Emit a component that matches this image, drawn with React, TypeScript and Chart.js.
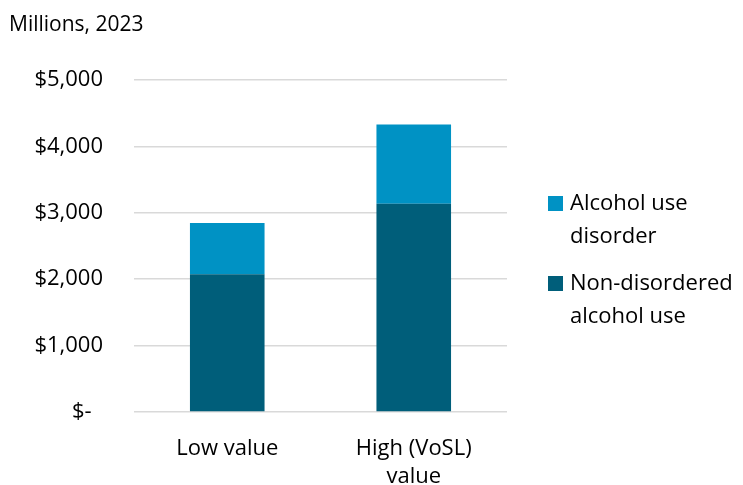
import React, { useEffect, useRef } from "react";
import { Chart, registerables } from "chart.js";

Chart.register(...registerables);

const categories: (string | string[])[] = ["Low value", ["High (VoSL)", "value"]];
const nonDisordered = [2075, 3135];
const alcoholUseDisorder = [770, 1195];
const seriesLabels = [["Non-disordered", "alcohol use"], ["Alcohol use", "disorder"]];
const seriesColors = ["#005E7A", "#0092C4"];
const yTicks = [0, 1000, 2000, 3000, 4000, 5000];
const titleText = "Millions, 2023";

const FONT = "'Open Sans', sans-serif";

const overlayPlugin = {
  id: "overlay",
  afterDraw(chart: any) {
    const ctx = chart.ctx;
    const area = chart.chartArea;
    ctx.save();
    // title
    ctx.fillStyle = "#000";
    ctx.font = `21px ${FONT}`;
    ctx.textAlign = "left";
    ctx.textBaseline = "alphabetic";
    ctx.fillText(titleText, 9, 31);
    // legend (reversed order: top item is last dataset)
    ctx.font = `22px ${FONT}`;
    const boxX = area.right + 41;
    const textX = area.right + 63;
    let baseY = area.top + 130;
    const ds = chart.data.datasets;
    for (let i = ds.length - 1; i >= 0; i--) {
      const lines: string[] = seriesLabels[i];
      ctx.fillStyle = ds[i].backgroundColor;
      ctx.fillRect(boxX, baseY - 14, 15, 15);
      ctx.fillStyle = "#000";
      lines.forEach((ln, k) => ctx.fillText(ln, textX, baseY + k * 33));
      baseY += 80;
    }
    ctx.restore();
  },
};

export default function App() {
  const ref = useRef<HTMLCanvasElement>(null);
  useEffect(() => {
    document.body.style.margin = "0";
    const chart = new Chart(ref.current as HTMLCanvasElement, {
      type: "bar",
      data: {
        labels: categories as any,
        datasets: [
          {
            label: seriesLabels[0].join(" "),
            data: nonDisordered,
            backgroundColor: seriesColors[0],
            borderWidth: 0,
          },
          {
            label: seriesLabels[1].join(" "),
            data: alcoholUseDisorder,
            backgroundColor: seriesColors[1],
            borderWidth: 0,
          },
        ],
      },
      options: {
        animation: false,
        responsive: false,
        maintainAspectRatio: false,
        layout: { padding: { left: 0, top: 80, right: 236, bottom: 0 } },
        datasets: { bar: { categoryPercentage: 1, barPercentage: 0.4 } },
        plugins: {
          legend: { display: false },
          title: { display: false },
          tooltip: { enabled: false },
        },
        scales: {
          x: {
            stacked: true,
            grid: { display: false, drawTicks: false },
            border: { display: false },
            ticks: {
              font: { family: FONT, size: 22, lineHeight: 1.3 },
              color: "#000",
              padding: 22,
              maxRotation: 0,
              autoSkip: false,
            },
            afterFit: (scale: any) => {
              scale.height = 73;
            },
          },
          y: {
            stacked: true,
            min: 0,
            max: 5000,
            afterBuildTicks: (scale: any) => {
              scale.ticks = yTicks.map((v) => ({ value: v }));
            },
            grid: { color: "#d9d9d9", lineWidth: 1.5, drawTicks: false },
            border: { display: false },
            ticks: {
              font: { family: FONT, size: 22 },
              color: "#000",
              padding: 31,
              callback: (v: any) =>
                Number(v) === 0 ? "$-  " : "$" + Number(v).toLocaleString("en-US"),
            },
            afterFit: (scale: any) => {
              scale.width = 134;
            },
          },
        },
      },
      plugins: [overlayPlugin],
    });
    return () => chart.destroy();
  }, []);
  return (
    <div style={{ position: "absolute", left: 0, top: 0, width: 743, height: 485 }}>
      <canvas ref={ref} width={743} height={485} style={{ width: 743, height: 485 }} />
    </div>
  );
}
